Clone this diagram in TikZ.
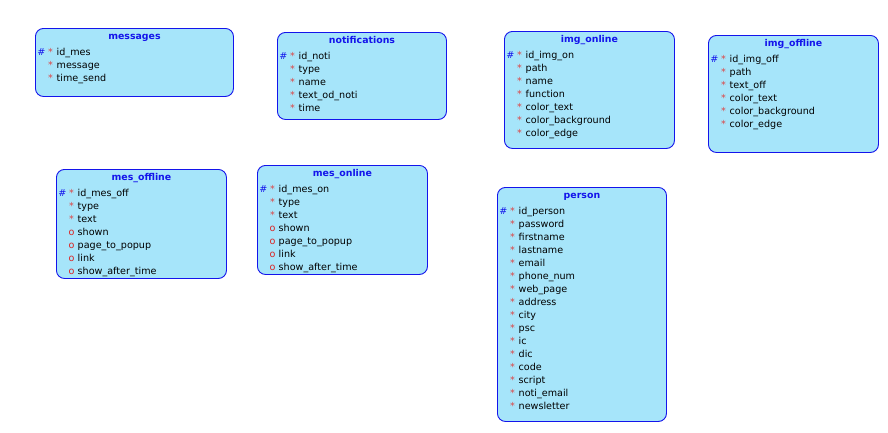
\documentclass[tikz,border=0pt]{standalone}
\usepackage{fontspec}
\setmainfont{DejaVu Sans}
\usepackage{tikz}
\usetikzlibrary{calc}
\definecolor{erblue}{RGB}{20,20,235}
\definecolor{erfill}{RGB}{166,229,250}
\definecolor{erstar}{RGB}{220,70,70}
\definecolor{eropt}{RGB}{220,35,35}
\newcommand{\ermarkk}{\llap{\textcolor{erblue}{\#}\hspace{2.6pt}}\textcolor{erstar}{*}}
\newcommand{\ermarkm}{\textcolor{erstar}{*}}
\newcommand{\ermarko}{\textcolor{eropt}{o}}
\tikzset{
  ertab/.style={draw=erblue, fill=erfill, line width=0.9pt, rounded corners=8pt, anchor=north west, inner sep=0pt},
  ertitle/.style={anchor=base, inner sep=0pt, text=erblue, font=\fontsize{9.4}{11}\selectfont\bfseries},
  errow/.style={anchor=base west, inner sep=0pt, font=\fontsize{9.6}{11}\selectfont},
  ermark/.style={anchor=base, inner sep=0pt, font=\fontsize{9.6}{11}\selectfont},
}

\begin{document}
\begin{tikzpicture}[x=1pt, y=-1pt]
  \fill[white] (0,0) rectangle (888,432);
  \useasboundingbox (0,0) rectangle (888,432);

  % Message tables.
  \node[ertab, minimum width=198pt, minimum height=68pt] (messages) at (35,28) {};
  \node[ertitle] (messages_title) at ($(messages.north)+(0,11)$) {messages};
  \foreach \mk/\txt [count=\i] in {k/id\_mes, m/message, m/time\_send} {
    \node[ermark] (messages_m\i) at ($(messages.north west)+(15.5,14.5+13*\i)$) {\csname ermark\mk\endcsname};
    \node[errow] (messages_\i) at ($(messages.north west)+(21.5,14.5+13*\i)$) {\txt};
  }

  \node[ertab, minimum width=169pt, minimum height=87pt] (notifications) at (277,32) {};
  \node[ertitle] (notifications_title) at ($(notifications.north)+(0,11)$) {notifications};
  \foreach \mk/\txt [count=\i] in {k/id\_noti, m/type, m/name, m/text\_od\_noti, m/time} {
    \node[ermark] (notifications_m\i) at ($(notifications.north west)+(15.5,14.5+13*\i)$) {\csname ermark\mk\endcsname};
    \node[errow] (notifications_\i) at ($(notifications.north west)+(21.5,14.5+13*\i)$) {\txt};
  }

  \node[ertab, minimum width=170pt, minimum height=109pt] (mes_offline) at (56,169) {};
  \node[ertitle] (mes_offline_title) at ($(mes_offline.north)+(0,11)$) {mes\_offline};
  \foreach \mk/\txt [count=\i] in {k/id\_mes\_off, m/type, m/text, o/shown, o/page\_to\_popup, o/link, o/show\_after\_time} {
    \node[ermark] (mes_offline_m\i) at ($(mes_offline.north west)+(15.5,14.5+13*\i)$) {\csname ermark\mk\endcsname};
    \node[errow] (mes_offline_\i) at ($(mes_offline.north west)+(21.5,14.5+13*\i)$) {\txt};
  }

  \node[ertab, minimum width=170pt, minimum height=109pt] (mes_online) at (257,165) {};
  \node[ertitle] (mes_online_title) at ($(mes_online.north)+(0,11)$) {mes\_online};
  \foreach \mk/\txt [count=\i] in {k/id\_mes\_on, m/type, m/text, o/shown, o/page\_to\_popup, o/link, o/show\_after\_time} {
    \node[ermark] (mes_online_m\i) at ($(mes_online.north west)+(15.5,14.5+13*\i)$) {\csname ermark\mk\endcsname};
    \node[errow] (mes_online_\i) at ($(mes_online.north west)+(21.5,14.5+13*\i)$) {\txt};
  }

  % Image tables.
  \node[ertab, minimum width=170pt, minimum height=117pt] (img_online) at (504,31) {};
  \node[ertitle] (img_online_title) at ($(img_online.north)+(0,11)$) {img\_online};
  \foreach \mk/\txt [count=\i] in {k/id\_img\_on, m/path, m/name, m/function, m/color\_text, m/color\_background, m/color\_edge} {
    \node[ermark] (img_online_m\i) at ($(img_online.north west)+(15.5,14.5+13*\i)$) {\csname ermark\mk\endcsname};
    \node[errow] (img_online_\i) at ($(img_online.north west)+(21.5,14.5+13*\i)$) {\txt};
  }

  \node[ertab, minimum width=170pt, minimum height=117pt] (img_offline) at (708,35) {};
  \node[ertitle] (img_offline_title) at ($(img_offline.north)+(0,11)$) {img\_offline};
  \foreach \mk/\txt [count=\i] in {k/id\_img\_off, m/path, m/text\_off, m/color\_text, m/color\_background, m/color\_edge} {
    \node[ermark] (img_offline_m\i) at ($(img_offline.north west)+(15.5,14.5+13*\i)$) {\csname ermark\mk\endcsname};
    \node[errow] (img_offline_\i) at ($(img_offline.north west)+(21.5,14.5+13*\i)$) {\txt};
  }

  % Person table.
  \node[ertab, minimum width=169pt, minimum height=234pt] (person) at (497,187) {};
  \node[ertitle] (person_title) at ($(person.north)+(0,11)$) {person};
  \foreach \mk/\txt [count=\i] in {k/id\_person, m/password, m/firstname, m/lastname, m/email, m/phone\_num, m/web\_page, m/address, m/city, m/psc, m/ic, m/dic, m/code, m/script, m/noti\_email, m/newsletter} {
    \node[ermark] (person_m\i) at ($(person.north west)+(15.5,14.5+13*\i)$) {\csname ermark\mk\endcsname};
    \node[errow] (person_\i) at ($(person.north west)+(21.5,14.5+13*\i)$) {\txt};
  }
\end{tikzpicture}
\end{document}
